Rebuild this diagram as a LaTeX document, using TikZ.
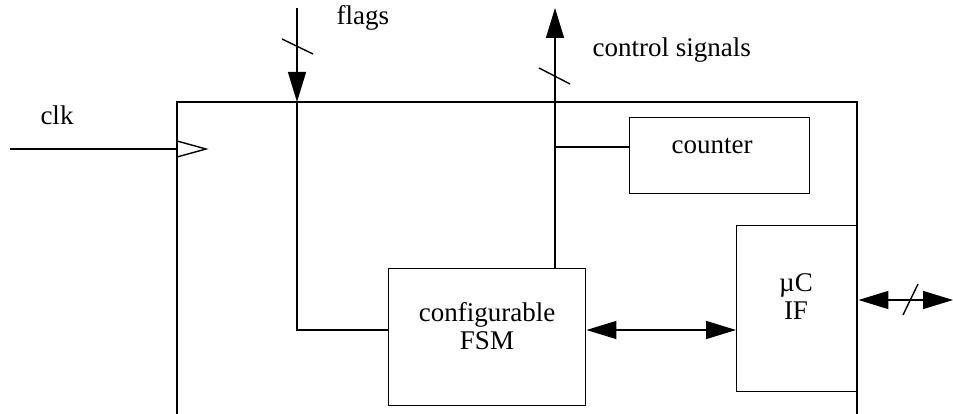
\documentclass[tikz,border=0pt]{standalone}
\usepackage{fontspec}
\setmainfont{Liberation Serif}
\usetikzlibrary{arrows.meta}
\begin{document}
\begin{tikzpicture}[x=1pt,y=-1pt,
  wire/.style={line width=1.4pt},
  blk/.style={draw,line width=1.4pt,rectangle,inner sep=0pt,anchor=north west},
  lbl/.style={font=\fontsize{27}{31}\selectfont},
  tip/.style={-{Triangle[length=30pt,width=18pt]}},
  tips/.style={{Triangle[length=30pt,width=18pt]}-{Triangle[length=30pt,width=18pt]}}]
\useasboundingbox (0,0) rectangle (953,414);
% outer frame (open at the bottom)
\draw[wire] (177,414) -- (177,102) -- (857,102) -- (857,414);
% blocks
\node[blk,minimum width=180pt,minimum height=76pt] (counter) at (629,117) {};
\node[lbl] at (712,146) {counter};
\node[blk,minimum width=197pt,minimum height=137pt] (fsm) at (388,268) {};
\node[lbl,align=center] at (487,326) {configurable\\[-3pt]FSM};
\node[blk,minimum width=121pt,minimum height=166pt] (uc) at (736,225) {};
\node[lbl,align=center] at (796,297) {µC\\[-3pt]IF};
% clk
\coordinate (clkin) at (10,149);
\coordinate (clkbox) at (177,149);
\draw[wire] (clkin) -- (clkbox);
\draw[wire,line join=miter] (177,141) -- (206,149) -- (177,157);
\node[lbl] at (57,115) {clk};
% flags
\coordinate (flagstop) at (297,8);
\coordinate (flagsin) at (297,102);
\coordinate (flagsbend) at (297,330);
\draw[wire,tip] (flagstop) -- (flagsin);
\draw[wire] (flagsin) -- (flagsbend) -- (fsm.west |- flagsbend);
\draw[wire] (282,39) -- (313,54);
\node[lbl,anchor=base west] at (333,25) {flags};
% control signals
\coordinate (ctltop) at (555,8);
\coordinate (ctlbranch) at (555,147);
\draw[wire,tip] (fsm.north -| ctltop) -- (ctltop);
\draw[wire] (ctlbranch) -- (counter.west |- ctlbranch);
\draw[wire] (539,68) -- (570,84);
\node[lbl,anchor=base west] at (589,57) {control signals};
% FSM <-> uC IF
\draw[wire,tips] (fsm.east |- 0,330) -- (uc.west |- 0,330);
% external bus
\coordinate (busend) at (953,300);
\draw[wire,tips] (uc.east |- busend) -- (busend);
\draw[wire] (903,315) -- (918,284);
\end{tikzpicture}
\end{document}
